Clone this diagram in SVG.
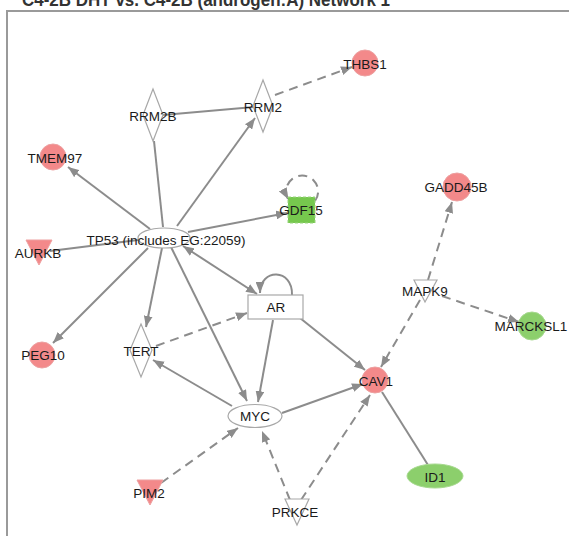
<svg xmlns="http://www.w3.org/2000/svg" width="569" height="536" viewBox="0 0 569 536">
<style>
.e{stroke:#8c8c8c;stroke-width:2;fill:none}
.d{stroke-dasharray:9,6}
.a{marker-end:url(#arr)}
.t{font-family:"Liberation Sans",Arial,sans-serif;font-size:13.5px;fill:#1a1a1a;text-anchor:middle;dominant-baseline:central}
.red{fill:#f3898a;stroke:#eda0a0;stroke-width:1}
.grn{fill:#8ccf6c;stroke:#a6d98e;stroke-width:1}
.wht{fill:#fff;stroke:#a8a8a8;stroke-width:1.2}
</style>
<defs>
<marker id="arr" viewBox="0 0 10 8" refX="10" refY="4" markerWidth="11" markerHeight="9" markerUnits="userSpaceOnUse" orient="auto-start-reverse">
<path d="M0,0 L10,4 L0,8 z" fill="#8c8c8c"/>
</marker>
</defs>
<rect width="569" height="536" fill="#fff"/>
<text x="22" y="6" font-family="Liberation Sans,Arial,sans-serif" font-weight="bold" font-size="18" fill="#333" textLength="368" lengthAdjust="spacingAndGlyphs">C4-2B DHT vs. C4-2B (androgen:A) Network 1</text>
<path d="M7,536 V11 H569" fill="none" stroke="#9a9a9a" stroke-width="2"/>
<g id="connectors">
<line class="e" x1="163" y1="115" x2="254" y2="107"/>
<line class="e d a" x1="275" y1="95" x2="352" y2="67"/>
<line class="e a" x1="177" y1="226" x2="255" y2="118"/>
<line class="e" x1="163" y1="227" x2="154" y2="141"/>
<line class="e a" x1="150" y1="229" x2="68" y2="167"/>
<line class="e a" x1="188" y1="232" x2="287" y2="213"/>
<line class="e" x1="138" y1="240" x2="50" y2="251"/>
<line class="e a" x1="148" y1="248" x2="53" y2="343"/>
<line class="e a" x1="162" y1="248" x2="146" y2="327"/>
<line class="e a" x1="171" y1="247" x2="247" y2="401"/>
<line class="e a" x1="183" y1="246" x2="257" y2="294" style="marker-start:url(#arr)"/>
<path class="e a" d="M292,295 C293,268 260,268 260,293"/>
<line class="e d a" x1="156" y1="346" x2="247" y2="313"/>
<line class="e a" x1="232" y1="406" x2="153" y2="360"/>
<line class="e a" x1="273" y1="320" x2="258" y2="402"/>
<line class="e a" x1="300" y1="318" x2="365" y2="370"/>
<line class="e a" x1="282" y1="413" x2="363" y2="384"/>
<line class="e d a" x1="301" y1="500" x2="370" y2="395"/>
<line class="e d a" x1="290" y1="500" x2="262" y2="431"/>
<line class="e d a" x1="161" y1="483" x2="238" y2="428"/>
<line class="e" x1="382" y1="392" x2="428" y2="465"/>
<line class="e d a" x1="420" y1="300" x2="381" y2="367"/>
<line class="e d a" x1="428" y1="280" x2="452" y2="202"/>
<line class="e d a" x1="442" y1="296" x2="519" y2="322"/>
<path class="e d a" d="M315,201 A16,16 0 1 0 288,199"/>
</g>
<g id="THBS1"><circle class="red" cx="365" cy="63" r="13"/><text class="t" x="365" y="64">THBS1</text></g>
<g id="RRM2"><polygon class="wht" points="263,80 273,106 263,132 253,106"/><text class="t" x="263" y="107">RRM2</text></g>
<g id="RRM2B"><polygon class="wht" points="153,89 163,115 153,141 143,115"/><text class="t" x="153" y="116">RRM2B</text></g>
<g id="TMEM97"><circle class="red" cx="53" cy="157" r="13"/><text class="t" x="55" y="158">TMEM97</text></g>
<g id="GDF15"><rect x="288" y="197" width="27" height="26" fill="#76c84e" stroke="#9ad47e" stroke-dasharray="3,2"/><text class="t" x="301" y="210">GDF15</text></g>
<g id="TP53"><ellipse class="wht" cx="164" cy="238" rx="26" ry="10"/><text class="t" x="166" y="240">TP53 (includes EG:22059)</text></g>
<g id="AURKB"><polygon class="red" points="26,240 52,240 39,265"/><text class="t" x="38" y="253">AURKB</text></g>
<g id="PEG10"><circle class="red" cx="42" cy="355" r="13"/><text class="t" x="43" y="355">PEG10</text></g>
<g id="TERT"><polygon class="wht" points="141,324 152,350 141,377 130,350"/><text class="t" x="141" y="351">TERT</text></g>
<g id="AR"><rect class="wht" x="248" y="295" width="55" height="24"/><text class="t" x="276" y="307">AR</text></g>
<g id="MYC"><ellipse class="wht" cx="255" cy="416" rx="27" ry="11.5"/><text class="t" x="255" y="416">MYC</text></g>
<g id="PIM2"><polygon class="red" points="137,480 163,480 150,505"/><text class="t" x="149" y="493">PIM2</text></g>
<g id="PRKCE"><polygon class="wht" points="285,499 309,499 297,525"/><text class="t" x="295" y="512">PRKCE</text></g>
<g id="ID1"><ellipse class="grn" cx="435" cy="476" rx="28" ry="12"/><text class="t" x="435" y="477">ID1</text></g>
<g id="CAV1"><circle class="red" cx="375" cy="380" r="13"/><text class="t" x="376" y="381">CAV1</text></g>
<g id="MAPK9"><polygon class="wht" points="414,280 437,280 425,302"/><text class="t" x="425" y="291">MAPK9</text></g>
<g id="MARCKSL1"><circle class="grn" cx="532" cy="326" r="14"/><text class="t" x="531" y="326">MARCKSL1</text></g>
<g id="GADD45B"><circle class="red" cx="457" cy="187" r="14"/><text class="t" x="456" y="187">GADD45B</text></g>
</svg>
